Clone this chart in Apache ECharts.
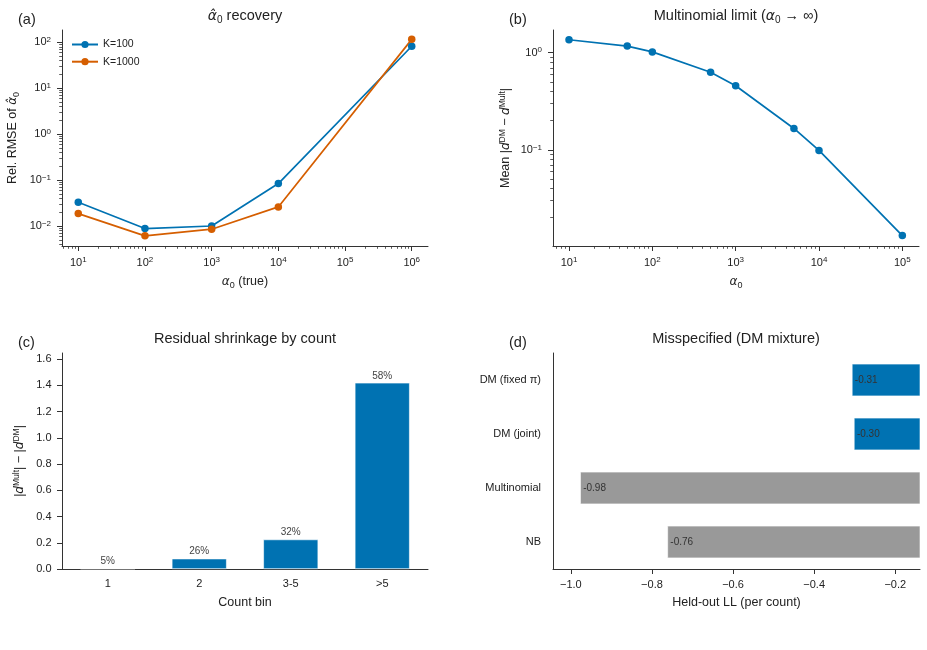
<!DOCTYPE html>
<html>
<head>
<meta charset="utf-8">
<script src="https://cdn.jsdelivr.net/npm/echarts@6/dist/echarts.min.js"></script>
<style>
  html, body { margin: 0; padding: 0; background: #fff; }
  #chart { width: 927px; height: 650px; }
</style>
</head>
<body>
<div id="chart"></div>
<script>
// ---- data ----
var aAlpha = [10, 100, 1000, 10000, 1000000];
var aK100 = [0.033, 0.0088, 0.0100, 0.084, 82];
var aK1000 = [0.0186, 0.0061, 0.0085, 0.026, 116];

var bAlpha = [10, 50, 100, 500, 1000, 5000, 10000, 100000];
var bMeanDiff = [1.36, 1.17, 1.02, 0.63, 0.457, 0.166, 0.0986, 0.0131];

var cBins = ['1', '2', '3-5', '>5'];
var cShrink = [0.003, 0.079, 0.225, 1.419];
var cPct = ['5%', '26%', '32%', '58%'];

var dModels = ['DM (fixed π)', 'DM (joint)', 'Multinomial', 'NB'];
var dLL = [-0.307, -0.302, -0.977, -0.762];

// tick labels (log axes hold exponents)
var aTickExpX = [1, 2, 3, 4, 5, 6];
var aTickExpY = [-2, -1, 0, 1, 2];
var bTickExpX = [1, 2, 3, 4, 5];
var bTickExpY = [-1, 0];
var cTicksY = [0, 0.2, 0.4, 0.6, 0.8, 1.0, 1.2, 1.4, 1.6];
var dTicksX = [-1.0, -0.8, -0.6, -0.4, -0.2];

// ---- styles ----
var BLUE = '#0072B2', ORANGE = '#D55E00', GREY = '#999999';
var dBarColors = [BLUE, BLUE, GREY, GREY];
var FONT = 'Liberation Sans';
var INK = '#222';
var AXIS = '#333';

var chart = echarts.init(document.getElementById('chart'));

function lg(v) { return Math.log10(v); }
function pairs(xs, ys) { return xs.map(function (x, i) { return [lg(x), lg(ys[i])]; }); }

// minor log ticks (2..9 x 10^n) inside [lo, hi] of log10 space
function minorTicks(lo, hi) {
  var out = [];
  for (var n = Math.floor(lo) - 1; n <= Math.ceil(hi); n++) {
    for (var k = 2; k <= 9; k++) {
      var v = n + Math.log10(k);
      if (v >= lo && v <= hi) out.push(v);
    }
  }
  return out;
}

var supRich = {
  sup: { fontSize: 8, lineHeight: 7, verticalAlign: 'top', fontFamily: FONT, color: INK }
};
function powLabel(v) {
  var e = Math.round(v);
  return '10{sup|' + (e < 0 ? '\u2212' + (-e) : e) + '}';
}

var nameRich = {
  it: { fontStyle: 'italic', fontFamily: 'DejaVu Sans', fontSize: 12, lineHeight: 16, color: INK },
  sub: { fontSize: 9, lineHeight: 5, verticalAlign: 'bottom', fontFamily: FONT, color: INK },
  sup: { fontSize: 8.5, lineHeight: 6, verticalAlign: 'top', fontFamily: FONT, color: INK }
};
var nameStyle = { fontFamily: FONT, fontSize: 12.5, color: INK, lineHeight: 16, rich: nameRich };

var tickLine = { color: AXIS, width: 1 };

function majorValueAxis(grid, lo, hi, ticks, formatter, margin, extra) {
  var ax = {
    type: 'value', gridIndex: grid, min: lo, max: hi,
    axisLine: { show: true, onZero: false, lineStyle: { color: AXIS, width: 1 } },
    axisTick: { show: true, inside: false, length: 5, lineStyle: tickLine, customValues: ticks },
    axisLabel: {
      show: true, customValues: ticks, formatter: formatter,
      fontFamily: FONT, fontSize: 11, color: INK, lineHeight: 13, margin: margin, rich: supRich
    },
    splitLine: { show: false },
    nameLocation: 'middle', nameTextStyle: nameStyle
  };
  for (var k in extra) ax[k] = extra[k];
  return ax;
}
function minorAxis(grid, lo, hi, pos) {
  return {
    type: 'value', gridIndex: grid, min: lo, max: hi, position: pos,
    axisLine: { show: false, onZero: false },
    axisTick: { show: true, length: 2.8, lineStyle: { color: AXIS, width: 0.8 }, customValues: minorTicks(lo, hi) },
    axisLabel: { show: false },
    splitLine: { show: false }
  };
}

var aX = [0.756, 6.244], aY = [-2.436, 2.268];
var bX = [0.808, 5.2], bY = [-1.99, 0.234];

var titleRich = {
  it: { fontStyle: 'italic', fontFamily: 'DejaVu Sans', fontSize: 14, lineHeight: 18, fill: INK },
  sub: { fontSize: 10, lineHeight: 6, verticalAlign: 'bottom', fontFamily: FONT, fill: INK }
};
function titleText(x, y, text) {
  return {
    type: 'text', x: x, y: y,
    style: {
      text: text, fill: INK, fontFamily: FONT, fontSize: 14.5, lineHeight: 18,
      align: 'center', verticalAlign: 'middle', rich: titleRich
    }
  };
}
function letterText(x, y, text) {
  return {
    type: 'text', x: x, y: y,
    style: { text: text, fill: INK, fontFamily: FONT, fontSize: 14.5, align: 'left', verticalAlign: 'middle' }
  };
}

var option = {
  animation: false,
  backgroundColor: '#fff',
  textStyle: { fontFamily: FONT },
  grid: [
    { left: 62, top: 30, width: 366, height: 216 },
    { left: 553, top: 30, width: 366, height: 216 },
    { left: 62, top: 353, width: 366, height: 216 },
    { left: 553, top: 353, width: 367, height: 216 }
  ],
  legend: {
    data: ['K=100', 'K=1000'], orient: 'vertical', left: 66, top: 34,
    itemWidth: 26, itemHeight: 9, itemGap: 6.2,
    textStyle: { fontFamily: FONT, fontSize: 10.5, color: INK }
  },
  xAxis: [
    majorValueAxis(0, aX[0], aX[1], aTickExpX, powLabel, 10,
      { name: '{it|α}{sub|0} (true)', nameGap: 28 }),
    minorAxis(0, aX[0], aX[1], 'bottom'),
    majorValueAxis(1, bX[0], bX[1], bTickExpX, powLabel, 10,
      { name: '{it|α}{sub|0}', nameGap: 28 }),
    minorAxis(1, bX[0], bX[1], 'bottom'),
    {
      type: 'category', gridIndex: 2, data: cBins,
      axisLine: { onZero: false, lineStyle: { color: AXIS, width: 1 } },
      axisTick: { alignWithLabel: true, length: 5, lineStyle: tickLine },
      axisLabel: { fontFamily: FONT, fontSize: 11, color: INK, margin: 9 },
      name: 'Count bin', nameLocation: 'middle', nameGap: 26, nameTextStyle: nameStyle
    },
    majorValueAxis(3, -1.044, -0.139, dTicksX, function (v) {
      return v.toFixed(1).replace('-', '\u2212');
    }, 9, { name: 'Held-out LL (per count)', nameGap: 26 })
  ],
  yAxis: [
    majorValueAxis(0, aY[0], aY[1], aTickExpY, powLabel, 11,
      { name: 'Rel. RMSE of {it|α̂}{sub|0}', nameGap: 41 }),
    minorAxis(0, aY[0], aY[1], 'left'),
    majorValueAxis(1, bY[0], bY[1], bTickExpY, powLabel, 11,
      { name: 'Mean |{it|d}{sup|DM} − {it|d}{sup|Mult}|', nameGap: 39 }),
    minorAxis(1, bY[0], bY[1], 'left'),
    majorValueAxis(2, 0, 1.646, cTicksY, function (v) { return v.toFixed(1); }, 10.5,
      { name: '|{it|d}{sup|Mult}| − |{it|d}{sup|DM}|', nameGap: 34 }),
    {
      type: 'category', gridIndex: 3, data: dModels, inverse: true,
      axisLine: { onZero: false, lineStyle: { color: AXIS, width: 1 } },
      axisTick: { alignWithLabel: true, length: 5, lineStyle: tickLine },
      axisLabel: { fontFamily: FONT, fontSize: 11, color: INK, margin: 12 }
    }
  ],
  series: [
    {
      name: 'K=100', type: 'line', xAxisIndex: 0, yAxisIndex: 0,
      data: pairs(aAlpha, aK100), color: BLUE,
      symbol: 'circle', symbolSize: 7.5, lineStyle: { width: 1.7 }
    },
    {
      name: 'K=1000', type: 'line', xAxisIndex: 0, yAxisIndex: 0,
      data: pairs(aAlpha, aK1000), color: ORANGE,
      symbol: 'circle', symbolSize: 7.5, lineStyle: { width: 1.7 }
    },
    {
      name: 'mult', type: 'line', xAxisIndex: 2, yAxisIndex: 2,
      data: pairs(bAlpha, bMeanDiff), color: BLUE,
      symbol: 'circle', symbolSize: 7.5, lineStyle: { width: 1.7 }
    },
    {
      name: 'shrink', type: 'bar', xAxisIndex: 4, yAxisIndex: 4,
      data: cShrink, barCategoryGap: '40%',
      itemStyle: { color: BLUE, borderColor: '#fff', borderWidth: 0.6 },
      label: {
        show: true, position: 'top', distance: 2,
        fontFamily: FONT, fontSize: 10, color: '#444',
        formatter: function (p) { return cPct[p.dataIndex]; }
      }
    },
    {
      name: 'heldout', type: 'bar', xAxisIndex: 5, yAxisIndex: 5,
      data: dLL, barCategoryGap: '40%',
      itemStyle: {
        color: function (p) { return dBarColors[p.dataIndex]; },
        borderColor: '#fff', borderWidth: 0.6
      },
      label: {
        show: true, position: 'insideLeft', distance: 3,
        fontFamily: FONT, fontSize: 10, color: '#333',
        formatter: function (p) { return p.value.toFixed(2); }
      }
    }
  ],
  graphic: [
    titleText(245, 16, '{it|α̂}{sub|0} recovery'),
    titleText(736, 16, 'Multinomial limit ({it|α}{sub|0} → ∞)'),
    titleText(245, 339, 'Residual shrinkage by count'),
    titleText(736, 339, 'Misspecified (DM mixture)'),
    letterText(18, 20, '(a)'),
    letterText(509, 20, '(b)'),
    letterText(18, 343, '(c)'),
    letterText(509, 343, '(d)')
  ]
};

chart.setOption(option);
</script>
</body>
</html>
